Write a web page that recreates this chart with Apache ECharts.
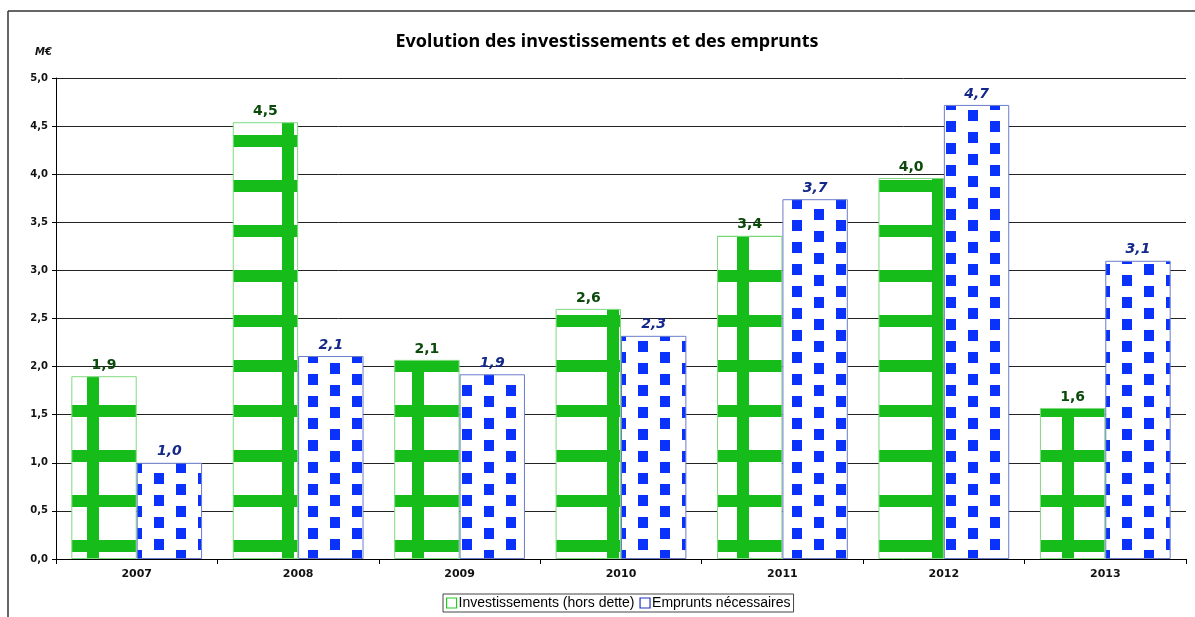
<!DOCTYPE html>
<html>
<head>
<meta charset="utf-8">
<script src="https://cdn.jsdelivr.net/npm/echarts@6/dist/echarts.min.js"></script>
<style>
    html, body { margin: 0; padding: 0; background: #fff; }
    #chart { width: 1195px; height: 617px; }
</style>
</head>
<body>
<div id="chart"></div>
<script>
const years = ['2007', '2008', '2009', '2010', '2011', '2012', '2013']
const investissements = [1.90, 4.54, 2.07, 2.60, 3.36, 3.96, 1.57]
const emprunts = [1.00, 2.11, 1.92, 2.32, 3.74, 4.72, 3.10]
const seriesNames = ['Investissements (hors dette)', 'Emprunts nécessaires']

const fmt = v => v.toFixed(1).replace('.', ',')

// green grid pattern tile
function greenTile() {
    const c = document.createElement('canvas')
    c.width = 65
    c.height = 45
    const ctx = c.getContext('2d')
    ctx.fillStyle = '#fff'
    ctx.fillRect(0, 0, 65, 45)
    ctx.fillStyle = '#16bd1a'
    ctx.fillRect(22, 0, 12, 45)
    ctx.fillRect(0, 0, 65, 12)
    return c
}

// blue dotted pattern tile
function blueTile() {
    const c = document.createElement('canvas')
    c.width = 44
    c.height = 22
    const ctx = c.getContext('2d')
    ctx.fillStyle = '#fff'
    ctx.fillRect(0, 0, 44, 22)
    ctx.fillStyle = '#0a32fa'
    ctx.fillRect(0, 0, 10, 11)
    ctx.fillRect(22, 11, 10, 11)
    return c
}

const chart = echarts.init(document.getElementById('chart'))
chart.setOption({
    animation: false,
    backgroundColor: '#fff',
    title: {
        text: 'Evolution des investissements et des emprunts',
        left: 602,
        textAlign: 'center',
        top: 28,
        textStyle: { fontFamily: 'Noto Sans', fontSize: 18, fontWeight: 'bold', color: '#000' }
    },
    legend: {
        left: 443,
        top: 594,
        padding: [2, 3],
        itemGap: 5,
        itemWidth: 10,
        itemHeight: 10,
        borderColor: '#444',
        borderWidth: 1,
        data: [
            { name: seriesNames[0], icon: 'rect', itemStyle: { color: '#fff', borderColor: '#22cc22', borderWidth: 1.2 } },
            { name: seriesNames[1], icon: 'rect', itemStyle: { color: '#fff', borderColor: '#2233bb', borderWidth: 1.2 } }
        ],
        textStyle: { fontFamily: 'Liberation Sans', fontSize: 14, color: '#000', padding: [0, 0, 0, -3] }
    },
    grid: { left: 56, right: 9, top: 78, bottom: 58 },
    graphic: [
        { type: 'line', shape: { x1: 8, y1: 11, x2: 1195, y2: 11 }, style: { stroke: '#333', lineWidth: 1.5 } },
        { type: 'line', shape: { x1: 8, y1: 11, x2: 8, y2: 617 }, style: { stroke: '#333', lineWidth: 1.5 } }
    ],
    xAxis: {
        type: 'category',
        data: years,
        axisLine: { lineStyle: { color: '#000', width: 1 } },
        axisTick: { show: true, length: 5, lineStyle: { color: '#000' } },
        axisLabel: { fontFamily: 'DejaVu Sans', fontSize: 11, fontWeight: 'bold', color: '#111', margin: 10 }
    },
    yAxis: {
        type: 'value',
        min: 0,
        max: 5,
        interval: 0.5,
        name: 'M€',
        nameGap: 21,
        nameTextStyle: { fontFamily: 'DejaVu Sans', fontSize: 10, fontWeight: 'bold', fontStyle: 'italic', color: '#111', align: 'right', padding: [0, 4, 0, 0] },
        axisLine: { show: true, lineStyle: { color: '#000', width: 1 } },
        axisTick: { show: true, length: 4, lineStyle: { color: '#000' } },
        splitLine: { lineStyle: { color: '#222', width: 1 } },
        axisLabel: { fontFamily: 'DejaVu Sans', fontSize: 10, fontWeight: 'bold', color: '#111', margin: 8, formatter: v => fmt(v) }
    },
    series: [
        {
            name: seriesNames[0],
            type: 'bar',
            data: investissements,
            barGap: '0%',
            barCategoryGap: '19%',
            itemStyle: { color: { image: greenTile(), repeat: 'repeat' }, borderColor: '#7fd97f', borderWidth: 1 },
            label: {
                show: true,
                position: 'top',
                distance: 4,
                formatter: p => fmt(p.value),
                fontFamily: 'DejaVu Sans',
                fontSize: 14,
                fontWeight: 'bold',
                color: '#0b4a0b'
            }
        },
        {
            name: seriesNames[1],
            type: 'bar',
            data: emprunts,
            itemStyle: { color: { image: blueTile(), repeat: 'repeat' }, borderColor: '#6a7ccc', borderWidth: 1 },
            label: {
                show: true,
                position: 'top',
                distance: 4,
                formatter: p => fmt(p.value),
                fontFamily: 'DejaVu Sans',
                fontSize: 14,
                fontWeight: 'bold',
                fontStyle: 'italic',
                color: '#13288a'
            }
        }
    ]
})
</script>
</body>
</html>
